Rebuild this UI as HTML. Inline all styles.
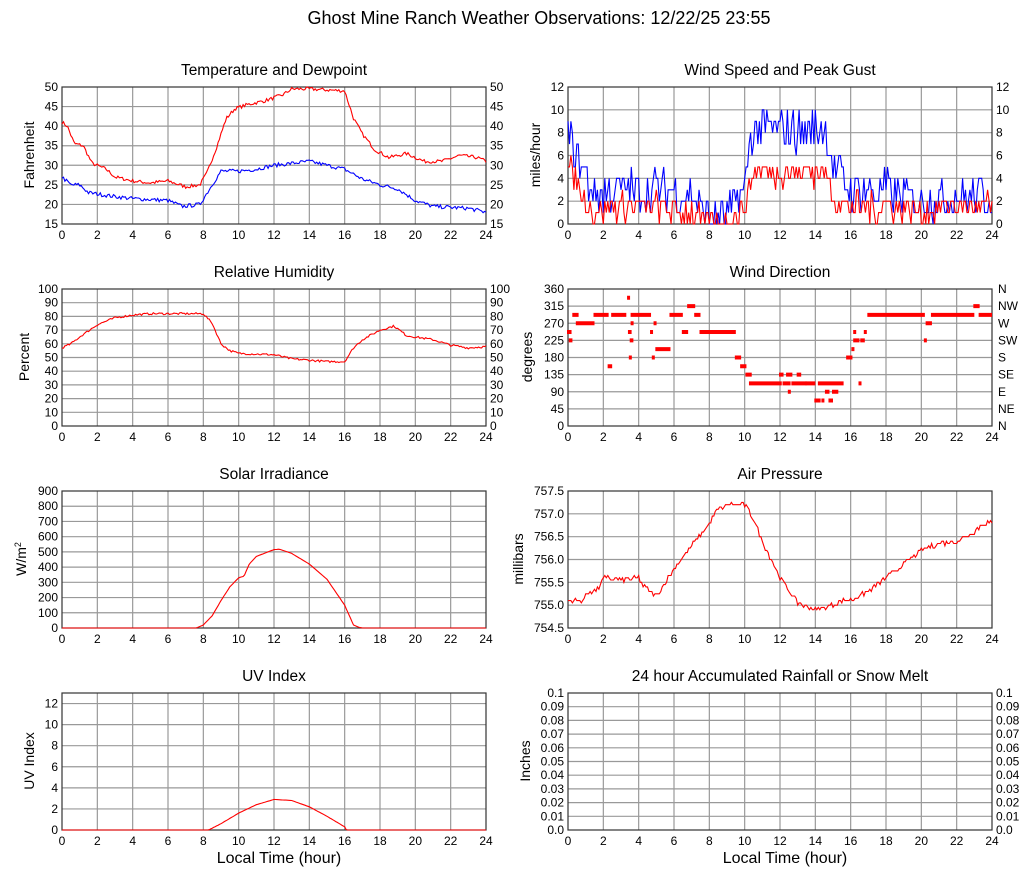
<!DOCTYPE html>
<html><head><meta charset="utf-8"><style>
body{margin:0;background:#fff;width:1027px;height:878px;overflow:hidden}
svg{font-family:"Liberation Sans",sans-serif;font-size:12px;fill:#000}
.t{font-size:15.5px;text-anchor:middle}
.l{text-anchor:end}
.m{text-anchor:middle}
.a{font-size:14px;text-anchor:middle}
</style></head><body>
<svg id="s" width="1027" height="878" xmlns="http://www.w3.org/2000/svg">
<text x="539" y="24" style="font-size:18px;text-anchor:middle">Ghost Mine Ranch Weather Observations: 12/22/25 23:55</text>
<g id="p0" transform="translate(62,87)"><text class="t" x="212" y="-12">Temperature and Dewpoint</text>
<g class="l"><text x="-4" y="4">50</text><text x="-4" y="23.6">45</text><text x="-4" y="43.1">40</text><text x="-4" y="62.7">35</text><text x="-4" y="82.3">30</text><text x="-4" y="101.9">25</text><text x="-4" y="121.4">20</text><text x="-4" y="141">15</text></g>
<g><text x="428" y="4">50</text><text x="428" y="23.6">45</text><text x="428" y="43.1">40</text><text x="428" y="62.7">35</text><text x="428" y="82.3">30</text><text x="428" y="101.9">25</text><text x="428" y="121.4">20</text><text x="428" y="141">15</text></g>
<text class="a" transform="translate(-28,68) rotate(-90)">Fahrenheit</text></g>
<g id="p1" transform="translate(568,87)"><text class="t" x="212" y="-12">Wind Speed and Peak Gust</text>
<g class="l"><text x="-4" y="4">12</text><text x="-4" y="26.8">10</text><text x="-4" y="49.7">8</text><text x="-4" y="72.5">6</text><text x="-4" y="95.3">4</text><text x="-4" y="118.2">2</text><text x="-4" y="141">0</text></g>
<g><text x="428" y="4">12</text><text x="428" y="26.8">10</text><text x="428" y="49.7">8</text><text x="428" y="72.5">6</text><text x="428" y="95.3">4</text><text x="428" y="118.2">2</text><text x="428" y="141">0</text></g>
<text class="a" transform="translate(-28,68) rotate(-90)">miles/hour</text></g>
<g id="p2" transform="translate(62,289)"><text class="t" x="212" y="-12">Relative Humidity</text>
<g class="l"><text x="-4" y="4">100</text><text x="-4" y="17.7">90</text><text x="-4" y="31.4">80</text><text x="-4" y="45.1">70</text><text x="-4" y="58.8">60</text><text x="-4" y="72.5">50</text><text x="-4" y="86.2">40</text><text x="-4" y="99.9">30</text><text x="-4" y="113.6">20</text><text x="-4" y="127.3">10</text><text x="-4" y="141">0</text></g>
<g><text x="428" y="4">100</text><text x="428" y="17.7">90</text><text x="428" y="31.4">80</text><text x="428" y="45.1">70</text><text x="428" y="58.8">60</text><text x="428" y="72.5">50</text><text x="428" y="86.2">40</text><text x="428" y="99.9">30</text><text x="428" y="113.6">20</text><text x="428" y="127.3">10</text><text x="428" y="141">0</text></g>
<text class="a" transform="translate(-33,68) rotate(-90)">Percent</text></g>
<g id="p3" transform="translate(568,289)"><text class="t" x="212" y="-12">Wind Direction</text>
<g class="l"><text x="-4" y="4">360</text><text x="-4" y="21.1">315</text><text x="-4" y="38.3">270</text><text x="-4" y="55.4">225</text><text x="-4" y="72.5">180</text><text x="-4" y="89.6">135</text><text x="-4" y="106.8">90</text><text x="-4" y="123.9">45</text><text x="-4" y="141">0</text></g>
<g><text x="430" y="4">N</text><text x="430" y="21.1">NW</text><text x="430" y="38.3">W</text><text x="430" y="55.4">SW</text><text x="430" y="72.5">S</text><text x="430" y="89.6">SE</text><text x="430" y="106.8">E</text><text x="430" y="123.9">NE</text><text x="430" y="141">N</text></g>
<text class="a" transform="translate(-36,68) rotate(-90)">degrees</text></g>
<g id="p4" transform="translate(62,491)"><text class="t" x="212" y="-12">Solar Irradiance</text>
<g class="l"><text x="-4" y="4">900</text><text x="-4" y="19.2">800</text><text x="-4" y="34.4">700</text><text x="-4" y="49.7">600</text><text x="-4" y="64.9">500</text><text x="-4" y="80.1">400</text><text x="-4" y="95.3">300</text><text x="-4" y="110.6">200</text><text x="-4" y="125.8">100</text><text x="-4" y="141">0</text></g>
<text class="a" transform="translate(-36,68) rotate(-90)">W/m<tspan dy="-5" style="font-size:9px">2</tspan></text></g>
<g id="p5" transform="translate(568,491)"><text class="t" x="212" y="-12">Air Pressure</text>
<g class="l"><text x="-4" y="4">757.5</text><text x="-4" y="26.8">757.0</text><text x="-4" y="49.7">756.5</text><text x="-4" y="72.5">756.0</text><text x="-4" y="95.3">755.5</text><text x="-4" y="118.2">755.0</text><text x="-4" y="141">754.5</text></g>
<text class="a" transform="translate(-45,68) rotate(-90)">millibars</text></g>
<g id="p6" transform="translate(62,693)"><text class="t" x="212" y="-12">UV Index</text>
<g class="l"><text x="-4" y="14.5">12</text><text x="-4" y="35.6">10</text><text x="-4" y="56.7">8</text><text x="-4" y="77.8">6</text><text x="-4" y="98.9">4</text><text x="-4" y="119.9">2</text><text x="-4" y="141">0</text></g>
<text class="a" transform="translate(-28,68) rotate(-90)">UV Index</text>
<text class="a" x="217" y="170" style="font-size:16px">Local Time (hour)</text></g>
<g id="p7" transform="translate(568,693)"><text class="t" x="212" y="-12">24 hour Accumulated Rainfall or Snow Melt</text>
<g class="l"><text x="-4" y="4">0.1</text><text x="-4" y="17.7">0.09</text><text x="-4" y="31.4">0.08</text><text x="-4" y="45.1">0.07</text><text x="-4" y="58.8">0.06</text><text x="-4" y="72.5">0.05</text><text x="-4" y="86.2">0.04</text><text x="-4" y="99.9">0.03</text><text x="-4" y="113.6">0.02</text><text x="-4" y="127.3">0.01</text><text x="-4" y="141">0.0</text></g>
<g><text x="428" y="4">0.1</text><text x="428" y="17.7">0.09</text><text x="428" y="31.4">0.08</text><text x="428" y="45.1">0.07</text><text x="428" y="58.8">0.06</text><text x="428" y="72.5">0.05</text><text x="428" y="86.2">0.04</text><text x="428" y="99.9">0.03</text><text x="428" y="113.6">0.02</text><text x="428" y="127.3">0.01</text><text x="428" y="141">0.0</text></g>
<text class="a" transform="translate(-38,68) rotate(-90)">Inches</text>
<text class="a" x="217" y="170" style="font-size:16px">Local Time (hour)</text></g>
</svg>
<script>
var NS="http://www.w3.org/2000/svg",W=424,H=137;
function el(p,n,a){var e=document.createElementNS(NS,n);for(var k in a)e.setAttribute(k,a[k]);p.appendChild(e);return e;}
var seed=7;function rnd(){seed=(seed*16807)%2147483647;return seed/2147483647;}
var yt=[[0,19.571],[0,22.833],[0,13.7],[0,17.125],[0,15.222],[0,22.833],[10.54,21.077],[0,13.7]];
var labs=["0","2","4","6","8","10","12","14","16","18","20","22","24"];
for(var i=0;i<8;i++){var g=document.getElementById("p"+i);
 var gg=el(g,"g",{});
 for(var j=1;j<12;j++)el(gg,"line",{x1:j*W/12,x2:j*W/12,y1:0,y2:H,stroke:"#999","stroke-width":1.2});
 for(var y=yt[i][0];y<H-1;y+=yt[i][1])if(y>0.5)el(gg,"line",{x1:0,x2:W,y1:y,y2:y,stroke:"#999","stroke-width":1.2});
 el(gg,"rect",{x:0,y:0,width:W,height:H,fill:"none",stroke:"#333","stroke-width":1.2});
 for(var j=0;j<13;j++){var t=el(g,"text",{x:j*W/12,y:H+15,"class":"m"});t.textContent=labs[j];}}
function interp(k,x){for(var i=1;i<k.length;i++)if(x<=k[i][0]){var a=k[i-1],b=k[i];return a[1]+(b[1]-a[1])*(x-a[0])/(b[0]-a[0]);}return k[k.length-1][1];}
function line(pi,k,lo,hi,noise,col,q){var g=document.getElementById("p"+pi),pts=[];
 for(var n=0;n<=288;n++){var x=n/12,v=interp(k,x)+(rnd()-0.5)*noise;if(q)v=Math.round(v/q)*q;
  pts.push((x/24*W).toFixed(1)+","+(H-(v-lo)/(hi-lo)*H).toFixed(1));}
 el(g,"polyline",{points:pts.join(" "),fill:"none",stroke:col,"stroke-width":1.1});}
line(0,[[0,41],[0.3,40],[0.7,35.5],[1.2,35],[1.7,30.5],[2.5,29],[3,27],[4,26],[5,25.5],[6,26],[7,24.5],[7.8,25],[8.2,28],[8.7,34],[9.3,42],[9.8,44.5],[10.5,45.5],[11.5,46.5],[12.5,48],[13,49.5],[14,49.5],[16,49],[16.5,42],[17,38],[17.7,34],[18.5,32],[19.5,33],[20.5,31],[21.5,31],[22.5,32.5],[23.5,32],[24,31]],15,50,0.9,"#f00");
line(0,[[0,27],[0.5,25],[1,25],[1.5,23],[3,22],[4,21.5],[6,21],[6.8,19.5],[7.8,20],[8.5,25],[9,28.5],[10,28.5],[11,29],[12,30],[14,31],[15,30],[16,29],[17,26.5],[18,25],[19,24],[20,21],[21,19.5],[23,19],[24,18]],15,50,1,"#00f");
line(2,[[0,57],[0.5,60],[1,65],[2,74],[3,79],[4,81],[5,82],[6,82],[7,82],[8,82],[8.5,75],[9,60],[9.5,55],[10,53],[12,52],[13,49],[14,48],[15,47],[16,47],[16.5,57],[17,63],[18,70],[18.8,73],[19.5,66],[21,63],[22,59],[23,57],[24,58]],0,100,1.5,"#f00");
line(4,[[0,0],[7.6,0],[8,20],[8.5,80],[9,180],[9.5,270],[10,330],[10.3,340],[10.6,420],[11,470],[12,515],[12.3,518],[13,490],[14,420],[15,320],[16,150],[16.5,20],[16.8,5],[17,0],[24,0]],0,900,0,"#f00");
line(5,[[0,755.1],[0.8,755.1],[1.2,755.3],[1.7,755.35],[2,755.6],[3,755.55],[4,755.6],[4.3,755.4],[5,755.2],[5.5,755.5],[6,755.8],[7,756.3],[8,756.8],[8.5,757.1],[9,757.2],[10,757.2],[10.5,756.9],[11,756.4],[11.5,756],[12,755.6],[13,755.05],[14,754.9],[14.5,754.95],[15,755],[15.5,755.1],[16,755.1],[17,755.3],[18,755.6],[19,755.9],[20,756.2],[21,756.35],[22,756.4],[22.5,756.5],[23,756.6],[23.5,756.8],[24,756.8]],754.5,757.5,0.1,"#f00",0.05);
line(6,[[0,0],[8.3,0],[9,0.6],[10,1.6],[11,2.4],[12,2.9],[13,2.8],[14,2.2],[15,1.3],[16,0.3],[16.1,0],[24,0]],0,13,0,"#f00");
function wind(pi,k,amp,col){var g=document.getElementById("p"+pi),pts=[];
 for(var n=0;n<=288;n++){var x=n/12,v=Math.round(interp(k,x)+(rnd()-0.5)*amp);if(v<0)v=0;
  pts.push((x/24*W).toFixed(1)+","+(H-v/12*H).toFixed(1));}
 el(g,"polyline",{points:pts.join(" "),fill:"none",stroke:col,"stroke-width":1.1});}
wind(1,[[0,8],[0.5,6],[1.5,2.5],[3,3],[5,3],[7,2.5],[8,0.5],[9,0.5],[9.5,2],[10,3],[10.3,7.5],[11,8.5],[13,8],[14.5,8.5],[15,5],[16,3],[18,3],[20,2],[22,2.5],[24,2.5]],3.6,"#00f");
wind(1,[[0,5],[0.5,3.5],[1.5,1],[3,1.5],[5,1.5],[7,1],[8,0],[9,0],[9.5,1],[10,1.5],[10.5,4.5],[12,4.5],[14.5,4.5],[15,2.5],[16,1.5],[18,1.5],[20,1],[22,1.5],[24,1.5]],2.4,"#f00");
var D=[[0,0.2,247],[0.1,0.25,225],[0.3,0.6,292],[0.5,1.5,270],[1.5,2.3,292],[2.3,2.5,157],[2.5,3.3,292],[3.4,3.45,337],[3.45,3.6,247],[3.5,3.6,180],[3.55,3.7,225],[3.6,3.7,270],[3.6,4.7,292],[4.7,4.75,247],[4.8,4.85,180],[4.9,4.95,270],[5,5.8,202],[5.8,6.5,292],[6.5,6.8,247],[6.8,7.2,315],[7.2,7.5,292],[7.5,9.5,247],[9.5,9.8,180],[9.8,10.1,157],[10.1,10.4,135],[10.3,12.1,112],[12,12.2,135],[12.2,12.6,112],[12.4,12.7,135],[12.5,12.6,90],[12.7,13.5,112],[13,13.2,135],[13.5,14,112],[14,14.3,67],[14.2,15.6,112],[14.4,14.5,67],[14.6,14.8,90],[14.8,15,67],[15,15.3,90],[15.8,16.1,180],[16.1,16.2,202],[16.2,16.3,247],[16.2,16.5,225],[16.5,16.6,112],[16.6,16.8,225],[16.8,16.9,247],[17,20.2,292],[20.2,20.3,225],[20.3,20.6,270],[20.6,23,292],[23,23.3,315],[23.3,24,292]];
var g3=document.getElementById("p3");
D.forEach(function(d){el(g3,"rect",{x:d[0]/24*W-1,y:H-d[2]/360*H-2,width:Math.max(3,(d[1]-d[0])/24*W+1),height:4,fill:"#f00"});});
</script>
</body></html>
